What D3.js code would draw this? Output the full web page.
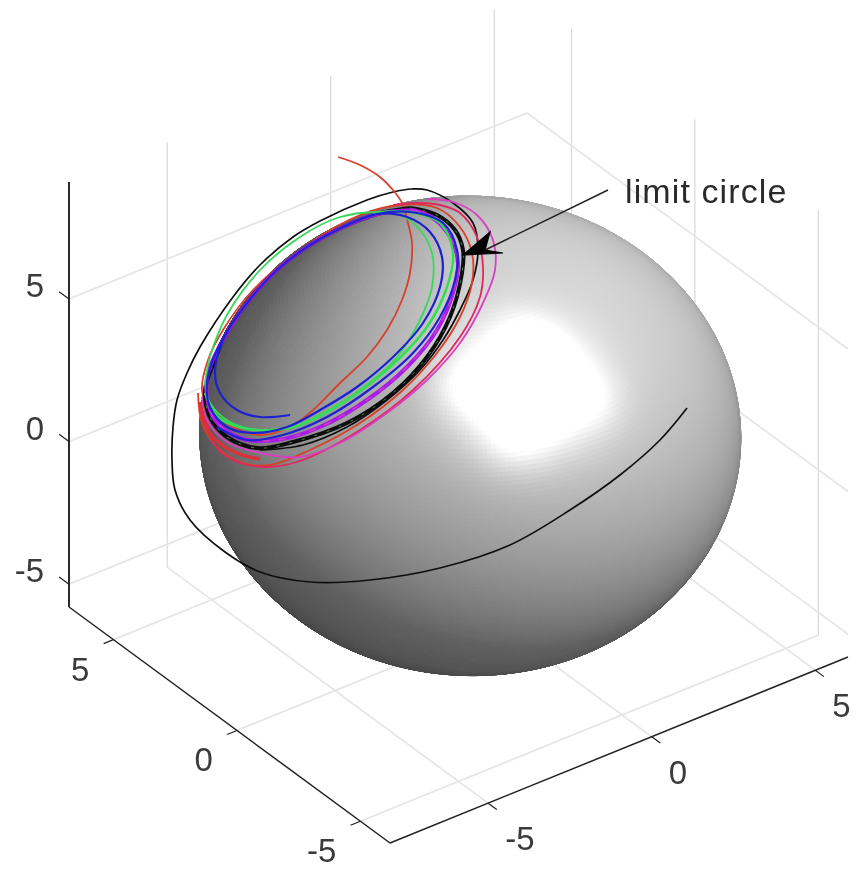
<!DOCTYPE html>
<html lang="en">
<head>
<meta charset="UTF-8">
<title>limit circle</title>
<script src="https://cdn.jsdelivr.net/npm/d3@7"></script>
<style>
  html, body { margin: 0; background: #fff; }
  svg { display: block; }
  text { font-family: "Liberation Sans", Arial, sans-serif; }
</style>
</head>
<body>
<script>
// axis limits and ticks
const xLim = [-8, 6];
const yLim = [-6.2, 6.8];
const zLim = [-5.8, 9.1];
const xTicks = [-5, 0, 5];
const yTicks = [-5, 0, 5];
const zTicks = [-5, 0, 5];

const sphereCenter = [0, 1.15, 0.07];
const sphereRadius = 6.6;

// trajectories are read in the viewing plane: [horizontal, vertical] from the centre of the sphere
const redFirst = [[-13.2,28],[-11,27.2],[-9,26],[-7.7,24.7],[-6.8,23.4],[-6.2,21.4],[-5.8,19.4],[-6,16.4],[-6.8,13.7],[-8.3,10.7],[-10.3,8],[-13,5.4],[-15.7,2.7],[-18,1],[-21,0.2],[-23.7,1],[-26,2.7],[-26.8,4.7],[-26.2,7.7],[-24.7,10.7],[-21.7,14.7],[-16,19.4],[-11,22.2],[-7,23.2],[-3.3,22.9],[-1,21],[0.2,18.4],[0.2,15.4],[-1,12],[-3.3,8.4],[-6.7,4.7],[-11,1.4],[-16,-1.3],[-20,-2.8],[-23,-2.5],[-25.3,-1],[-26.8,1.4],[-27.2,4.4]];
const redPatch = [[-27,3.5],[-26.3,0.8],[-24.8,-0.8],[-22.8,-1.8],[-21,-2.2]];
const crimsonOuter = [[-26.7,3],[-25.3,-1.1],[-23,-2.6],[-20.3,-3],[-17,-2.4],[-11,0.7],[-5.7,4.7],[-1,10],[1,14],[1.3,17],[0.7,20],[-1,22.4],[-3,23.2],[-5.3,23.4],[-7.7,23.2]];
const magentaOuter = [[-4.3,23.8],[-1.7,23.5],[0.7,22.2],[2.3,19.7],[2.5,16.7],[1.3,13.4],[-1,9.4],[-4.3,5.7],[-8.3,2.4],[-13,-0.6],[-17,-2],[-21,-1.6],[-24.3,-0.5],[-26.3,1.7],[-26.8,4]];
const greenOuter = [[-26.5,5.4],[-26,8],[-24.3,12.2],[-21,16.7],[-17,20],[-13.3,21.9],[-9.3,22.5],[-7,22.2],[-5,20.7],[-3.8,18.4],[-3.8,15],[-5,11.7],[-7.3,8],[-11,4.7],[-14.7,2.4],[-17.7,1],[-21,0.7],[-24,1.5],[-26,3.4],[-26.5,5.4]];
const greenInner = [[-26.5,4.4],[-25.2,2],[-22.7,0.9],[-19.7,0.7],[-17,1.2],[-12.3,3.7],[-8,7],[-4.3,11],[-2.3,15],[-1.7,18.4],[-3,21.4],[-6,22.5],[-9.7,22.4]];
const blueSpiral = [[-18,2.2],[-21,2],[-23.3,2.7],[-25,4.4],[-25.5,6.4],[-24.7,9.7],[-22.3,13.4],[-19.3,16.7],[-16,19.2],[-12.7,21],[-9.3,22.3],[-6.3,22],[-4,20.5],[-2.8,18],[-3,15],[-4.7,11.4],[-7.7,8],[-11.3,5],[-15,2.7],[-18.3,1],[-21.7,0.4],[-24.3,1],[-26,3],[-26.3,5.4],[-25.3,8.7],[-22.3,13.4],[-19.3,16.7],[-16,19.2],[-12.7,21],[-9.3,22.3],[-6,22.5],[-2.7,21.4],[-1.3,18.7],[-1.5,15.7],[-3,12],[-5.7,8.4],[-9.7,5],[-14.3,2],[-18.7,0.2],[-22.3,-0.3],[-25.3,1]];
const purpleBand = [[-5.7,22.7],[-3.7,21.9],[-2,20],[-1.2,17.4],[-1.7,14.4],[-3.3,10.7],[-6.3,7],[-10.3,3.7],[-15,1],[-19.3,-0.3],[-23,-0.1],[-25.5,1.7],[-26.3,4],[-26.2,6.4],[-24.7,9.7],[-22.3,13.4],[-19.3,16.7],[-16,19.2],[-12.7,21],[-9.3,22.3],[-5.7,22.7]];
const limitCircle = [[-6,22.9],[-3.3,22.2],[-1.5,20.7],[-0.7,18.7],[-0.8,16.4],[-2,12],[-4.3,8],[-7.7,4.4],[-12.3,1.4],[-17.7,-0.5],[-21.3,-1.1],[-24.3,0],[-26,2],[-26.5,4.7],[-25.6,7.5],[-24.7,9.7],[-22.3,13.4],[-19.3,16.7],[-16,19.2],[-12.7,21],[-9.3,22.3],[-6,22.9]];
const blackLong = [[21.7,2.9],[19,-0.3],[15,-3.8],[10,-7.3],[4,-10.8],[-3,-13.1],[-10,-14.3],[-16,-14.5],[-21,-13.5],[-24.5,-11.5],[-28,-8.3],[-29.5,-5.3],[-29.8,-2.3],[-29.7,1],[-29.3,3.7],[-28.3,6.4],[-27,9],[-23.7,14],[-21,17.2],[-17.7,20],[-15,21.6],[-10.3,23.7],[-7.7,24.5],[-5.8,24.8],[-4.3,24.7],[-1.7,23.4],[0.3,21.4],[0.8,18.7],[0.3,15.7],[-1,12.7],[-2.7,9.7],[-5,6.7],[-8.3,3.7],[-12.3,1],[-16.7,-0.8],[-21,-1.3]];

const arrowLine = [[13.8,24.7],[1.5,18.7]];
const arrowHead = [[-0.7,18.2],[2,20.5],[1.5,18.7],[3.3,18.4]];
const labelText = "limit circle";
const labelAt = [15.5,23.4];

var width = 861;
var height = 871;

var svg = d3.select("body").append("svg")
  .attr("width", width)
  .attr("height", height);

var blur = svg.append("defs").append("filter").attr("id", "soft")
  .attr("x", 0).attr("y", 0).attr("width", 1).attr("height", 1)
  .attr("filterUnits", "objectBoundingBox");
blur.append("feGaussianBlur").attr("stdDeviation", 0.7);

svg.append("rect").attr("width", width).attr("height", height).attr("fill", "#fff");
var root = svg.append("g").attr("filter", "url(#soft)");
root.append("rect").attr("width", width).attr("height", height).attr("fill", "#fff");

// what one data unit moves on screen
var xToH = d3.scaleLinear().domain(xLim).range([0, 458]);
var xToV = d3.scaleLinear().domain(xLim).range([0, -186]);
var yToH = d3.scaleLinear().domain(yLim).range([0, -321]);
var yToV = d3.scaleLinear().domain(yLim).range([0, -236]);
var zToV = d3.scaleLinear().domain(zLim).range([0, -425]);

function project(x, y, z) {
  return [390 + xToH(x) + yToH(y), 843 + xToV(x) + yToV(y) + zToV(z)];
}

// viewing plane scales for the trajectories and the annotation
var viewX = d3.scaleLinear().domain([-47, 39.1]).range([0, 861]);
var viewY = d3.scaleLinear().domain([43.7, -43.4]).range([0, 871]);
var line3d = d3.line();
var viewLine = d3.line().x(d => viewX(d[0])).y(d => viewY(d[1])).curve(d3.curveCatmullRom.alpha(0.5));

function seg(a, b, color, w) {
  root.append("path")
    .attr("d", line3d([project(a[0], a[1], a[2]), project(b[0], b[1], b[2])]))
    .attr("fill", "none").attr("stroke", color).attr("stroke-width", w);
}

// grid
var gridColor = "#e6e6e6";
var wallColor = "#d8d8d8";
xTicks.forEach(function (x) {
  seg([x, yLim[0], zLim[0]], [x, yLim[1], zLim[0]], gridColor, 1.8);
  seg([x, yLim[1], zLim[0]], [x, yLim[1], zLim[1]], wallColor, 1.2);
});
yTicks.forEach(function (y) {
  seg([xLim[0], y, zLim[0]], [xLim[1], y, zLim[0]], gridColor, 1.8);
  seg([xLim[1], y, zLim[0]], [xLim[1], y, zLim[1]], wallColor, 1.2);
});
zTicks.forEach(function (z) {
  seg([xLim[0], yLim[1], z], [xLim[1], yLim[1], z], gridColor, 1.8);
  seg([xLim[1], yLim[1], z], [xLim[1], yLim[0], z], gridColor, 1.8);
});

// axes
var axisColor = "#222";
seg([xLim[0], yLim[0], zLim[0]], [xLim[1], yLim[0], zLim[0]], axisColor, 1.5);
seg([xLim[0], yLim[0], zLim[0]], [xLim[0], yLim[1], zLim[0]], axisColor, 1.5);
seg([xLim[0], yLim[1], zLim[0]], [xLim[0], yLim[1], zLim[1]], axisColor, 1.9);

function tickLabel(p, dx, dy, anchor, s) {
  root.append("text").attr("x", p[0] + dx).attr("y", p[1] + dy)
    .attr("text-anchor", anchor).attr("font-size", 33).attr("fill", "#3a3a3a").text(s);
}
xTicks.forEach(function (x) {
  seg([x, yLim[0], zLim[0]], [x, yLim[0] - 0.35, zLim[0]], axisColor, 1.2);
  tickLabel(project(x, yLim[0], zLim[0]), 17, 47, "start", x);
});
yTicks.forEach(function (y) {
  seg([xLim[0], y, zLim[0]], [xLim[0] - 0.3, y, zLim[0]], axisColor, 1.2);
  tickLabel(project(xLim[0], y, zLim[0]), -24, 41, "end", y);
});
zTicks.forEach(function (z) {
  seg([xLim[0], yLim[1], z], [xLim[0], yLim[1] + 0.4, z], axisColor, 1.2);
  tickLabel(project(xLim[0], yLim[1], z), -25, -2, "end", z);
});

// sphere, built as a mesh and lit in camera space
var right = [0.797, -0.602, 0];
var up = [0.372, 0.493, 0.785];
var toward = [-0.473, -0.626, 0.617];
// highlight lobes: [u, v, strength, sharpness]
var lobes = [[0.22, 0.20, 125, 30], [-0.02, 0.20, 35, 110], [0.17, -0.02, 35, 110], [0.46, 0.15, 25, 110], [0.22, 0.42, 25, 110]];

function dot(a, b) { return a[0] * b[0] + a[1] * b[1] + a[2] * b[2]; }

function shade(n) {
  var c = [dot(n, right), dot(n, up), dot(n, toward)];
  var g = 105 + 40 * c[0] + 58 * c[1] + 85 * Math.max(0, c[2]);
  g -= 100 * Math.max(0, -c[0]) * Math.max(0, c[1]);
  if (g < 95) g = 95 - (95 - g) * 0.4;
  lobes.forEach(function (l) {
    var h = [l[0], l[1], Math.sqrt(1 - l[0] * l[0] - l[1] * l[1])];
    g += l[2] * Math.pow(Math.max(0, dot(c, h)), l[3]);
  });
  return Math.min(255, g);
}

function normalAt(t, p) {
  return [Math.sin(t) * Math.cos(p), Math.sin(t) * Math.sin(p), Math.cos(t)];
}

var steps = 160;
var stepT = Math.PI / steps;
var stepP = Math.PI / steps;
var cells = [];
d3.range(0, steps).forEach(function (i) {
  d3.range(0, steps * 2).forEach(function (j) {
    var t = i * stepT, p = j * stepP;
    var n = normalAt(t + stepT / 2, p + stepP / 2);
    if (dot(n, toward) > -0.03) {
      cells.push({t: t, p: p, g: shade(n)});
    }
  });
});

function surf(t, p) {
  var n = normalAt(t, p);
  return project(sphereCenter[0] + sphereRadius * n[0],
    sphereCenter[1] + sphereRadius * n[1],
    sphereCenter[2] + sphereRadius * n[2]);
}

root.append("g").selectAll("path").data(cells).join("path")
  .attr("d", d => line3d([surf(d.t, d.p), surf(d.t + stepT, d.p), surf(d.t + stepT, d.p + stepP), surf(d.t, d.p + stepP)]) + "Z")
  .attr("fill", d => d3.rgb(d.g, d.g, d.g))
  .attr("stroke", d => d3.rgb(d.g, d.g, d.g))
  .attr("stroke-width", 1);

// trajectories
function curve(points, color, w, dash) {
  root.append("path").attr("d", viewLine(points))
    .attr("fill", "none").attr("stroke", color).attr("stroke-width", w)
    .attr("stroke-linejoin", "round")
    .attr("stroke-dasharray", dash || null);
}
curve(blackLong, "#111", 1.7);
curve(redFirst, "#d9402c", 1.8);
curve(crimsonOuter, "#e0285f", 1.8);
curve(magentaOuter, "#d93fc2", 1.8);
curve(redPatch, "#d8323a", 3.5);
curve(limitCircle, "#0c0c0c", 4);
curve(limitCircle, "#3a8a4a", 1, "3 10");
curve(purpleBand, "#a81ee6", 4);
curve(purpleBand, "#d03ac8", 1.4, "7 9");
curve(greenInner, "#2fe050", 2.4);
curve(greenOuter, "#38d95a", 1.8);
curve(blueSpiral, "#1c22d2", 2.2);

// annotation
curve(arrowLine, "#222", 1.5);
root.append("path")
  .attr("d", d3.line().x(d => viewX(d[0])).y(d => viewY(d[1]))(arrowHead) + "Z")
  .attr("fill", "#050505").attr("stroke", "#050505").attr("stroke-width", 1.2);
root.append("text").attr("x", viewX(labelAt[0])).attr("y", viewY(labelAt[1]))
  .attr("font-size", 34).attr("letter-spacing", 1.1).attr("fill", "#2a2a2a").text(labelText);
</script>
</body>
</html>
